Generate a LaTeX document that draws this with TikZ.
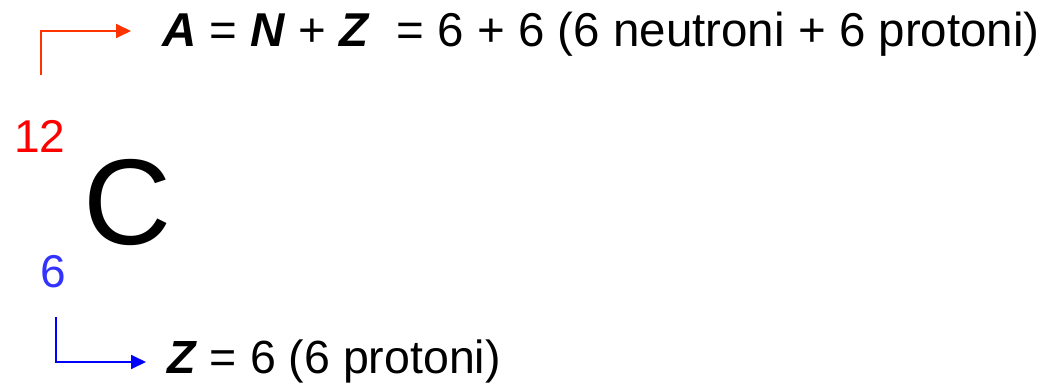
\documentclass[tikz,border=0pt]{standalone}
\usepackage{fontspec}
\setmainfont{Liberation Sans}
\usetikzlibrary{arrows.meta}
\definecolor{massred}{HTML}{FF3300}
\definecolor{numred}{HTML}{FF0000}
\definecolor{numblue}{HTML}{3333FF}
\definecolor{atomblue}{HTML}{0000FF}

\begin{document}
\begin{tikzpicture}[x=1pt, y=-1pt,
  lbl/.style={anchor=base west, inner sep=0pt},
  txt/.style={lbl, font=\fontsize{46}{55}\selectfont},
  arr/.style={-{Triangle[length=15pt,width=14pt]}, line width=1.8pt}]
\useasboundingbox (0,0) rectangle (1061,383);
% nuclide symbol
\node[txt, numred] (mass) at (14,152) {12};
\node[lbl, font=\fontsize{122}{140}\selectfont] (elem) at (83,244) {C};
\node[txt, numblue] (atnum) at (40,287) {6};
% explanations
\node[txt, font=\fontsize{47.5}{57}\selectfont] (massdef) at (162,46) {\textbf{\textit{A}} = \textbf{\textit{N}} + \textbf{\textit{Z}}\ \ = 6 + 6 (6 neutroni + 6 protoni)};
\node[txt, font=\fontsize{46.5}{56}\selectfont] (atdef) at (167,373) {\textbf{\textit{Z}} = 6 (6 protoni)};

\coordinate (mstart) at (41,75);
\coordinate (mend) at (131,31);
\coordinate (zstart) at (56,317);
\coordinate (zend) at (146,362);
\draw[arr, massred] (mstart) |- (mend);
\draw[arr, atomblue] (zstart) |- (zend);
\end{tikzpicture}
\end{document}
